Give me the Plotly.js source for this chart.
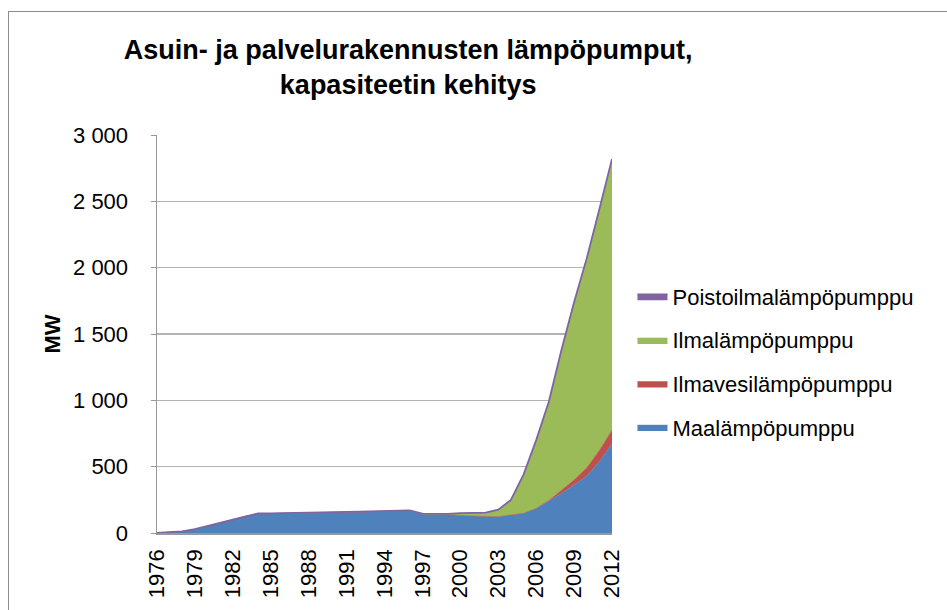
<!DOCTYPE html>
<html>
<head>
<meta charset="utf-8">
<script src="https://cdn.plot.ly/plotly-3.0.1.min.js"></script>
<style>
  html, body { margin: 0; padding: 0; background: #fff; overflow: hidden; }
  #chart { width: 947px; height: 610px; }
  #frame { position: absolute; left: 8px; top: 11px; width: 2000px; height: 2000px;
           border: 1.5px solid #8c8c8c; pointer-events: none; }
</style>
</head>
<body>
<div id="chart"></div>
<div id="frame"></div>
<script>
const years = [1976,1977,1978,1979,1980,1981,1982,1983,1984,1985,1986,1987,1988,1989,1990,1991,1992,1993,1994,1995,1996,1997,1998,1999,2000,2001,2002,2003,2004,2005,2006,2007,2008,2009,2010,2011,2012];

const maalampopumppu = [0,4,12,28,52,78,103,126,145,146,147,149,151,153,155,157,159,161,163,165,168,143,141,136,133,128,123,123,136,148,184,240,298,361,430,538,672];
const ilmavesilampopumppu = [0,0,0,0,0,0,0,0,0,0,0,0,0,0,0,0,0,0,0,0,0,0,0,0,0,0,0,0,0,1,2,7,25,40,62,85,104];
const ilmalampopumppu = [0,0,0,0,0,0,0,0,0,0,0,0,0,0,0,0,0,0,0,0,0,0,2,5,14,20,28,50,110,287,508,736,1049,1330,1568,1806,2032];
const poistoilmalampopumppu = [1,1,1,1,1,1,1,1,2,2,2,2,2,2,2,2,2,2,2,2,3,3,3,3,3,3,3,3,3,4,6,7,8,9,10,11,12];

const seriesNames = ['Maalämpöpumppu','Ilmavesilämpöpumppu','Ilmalämpöpumppu','Poistoilmalämpöpumppu'];
const xTickVals = [1976,1979,1982,1985,1988,1991,1994,1997,2000,2003,2006,2009,2012];
const xTickText = ['1976','1979','1982','1985','1988','1991','1994','1997','2000','2003','2006','2009','2012'];
const yTickVals = [0,500,1000,1500,2000,2500,3000];
const yTickText = ['0','500','1 000','1 500','2 000','2 500','3 000'];

const colors = ['#4F81BD','#C0504D','#9BBB59','#8064A2'];
const values = [maalampopumppu, ilmavesilampopumppu, ilmalampopumppu, poistoilmalampopumppu];

const traces = values.map((v, i) => ({
  type: 'scatter',
  mode: 'lines',
  x: years,
  y: v,
  name: seriesNames[i],
  stackgroup: 'one',
  legendgroup: 'g' + i,
  legendrank: 1000 - i,
  fillcolor: colors[i],
  line: { color: colors[i], width: i === 3 ? 1.8 : 0.5, shape: 'linear' },
  hoverinfo: 'x+y+name'
}));

const font = 'Liberation Sans, Arial, sans-serif';

const layout = {
  width: 947,
  height: 610,
  margin: { l: 157, r: 335, t: 135, b: 77 },
  paper_bgcolor: '#ffffff',
  plot_bgcolor: '#ffffff',
  showlegend: true,
  title: {
    text: '<b>Asuin- ja palvelurakennusten lämpöpumput,<br>kapasiteetin kehitys</b>',
    font: { family: font, size: 27, color: '#000' },
    x: 0.431, xref: 'container', xanchor: 'center',
    y: 0.903, yref: 'container', yanchor: 'middle'
  },
  xaxis: {
    type: 'linear',
    range: [1976, 2012],
    tickvals: xTickVals,
    ticktext: xTickText,
    tickangle: -90,
    tickfont: { family: font, size: 22, color: '#000' },
    ticklabelstandoff: 6,
    showgrid: false,
    zeroline: false,
    showline: true,
    linecolor: '#999999',
    linewidth: 1.5,
    ticks: '',
    fixedrange: true
  },
  yaxis: {
    range: [0, 3000],
    tickvals: yTickVals,
    ticktext: yTickText,
    tickfont: { family: font, size: 22, color: '#000' },
    ticklabelstandoff: 18,
    showgrid: true,
    gridcolor: '#b3b3b3',
    gridwidth: 1.5,
    zeroline: false,
    showline: true,
    linecolor: '#999999',
    linewidth: 1.5,
    ticks: 'outside',
    ticklen: 5,
    tickcolor: '#999999',
    title: { text: '<b>MW</b>', font: { family: font, size: 22, color: '#000' }, standoff: 6 },
    fixedrange: true
  },
  legend: {
    x: 1.045, xanchor: 'left',
    y: 0.647, yanchor: 'top',
    traceorder: 'grouped',
    tracegroupgap: 12,
    font: { family: font, size: 22, color: '#000' },
    itemwidth: 30,
    bgcolor: 'rgba(0,0,0,0)'
  }
};

Plotly.newPlot('chart', traces, layout, { displayModeBar: false, staticPlot: true });
</script>
</body>
</html>
